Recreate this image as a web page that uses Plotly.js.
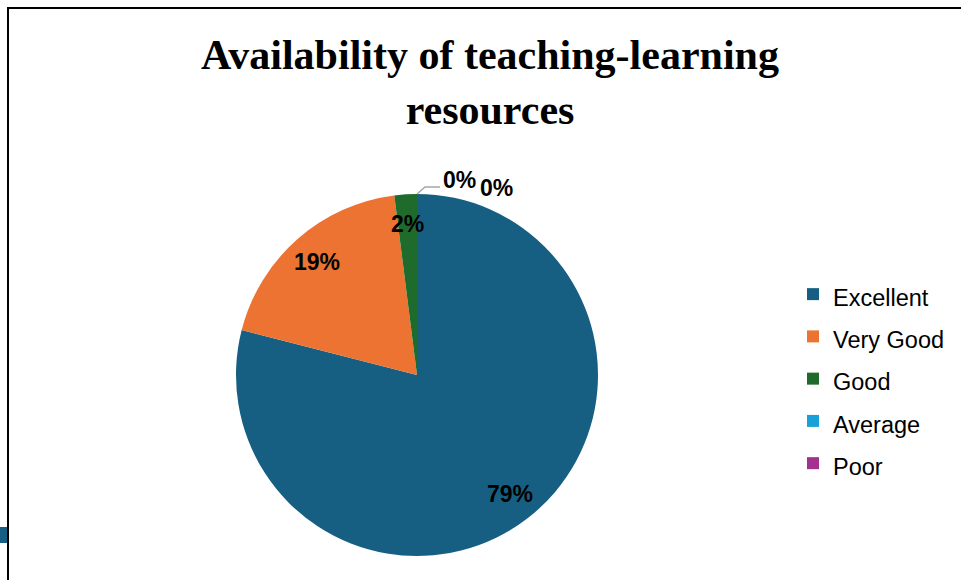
<!DOCTYPE html>
<html><head><meta charset="utf-8">
<script src="https://cdn.plot.ly/plotly-3.0.1.min.js"></script>
<style>body{margin:0;background:#fff}#c{width:961px;height:580px}</style>
</head><body><div id="c"></div>
<script>
const categories = ["Excellent", "Very Good", "Good", "Average", "Poor"];
const values = [79, 19, 2, 0, 0];
const colors = ["#175f82", "#ec7332", "#1e6b2c", "#19a0d8", "#a1308f"];
const titleText = "Availability of teaching-learning<br>resources";

const W = 961, H = 580;
const dom = {x: [236/W, 598/W], y: [(H-556)/H, (H-194)/H]};
const total = values.reduce((a,b)=>a+b,0);

const trace = {
  type: "pie",
  labels: categories.map(c => "<span style='font-size:23.5px'>" + c + "</span>"),
  values: values,
  sort: false,
  direction: "clockwise",
  rotation: 0,
  marker: {colors: colors, line: {width: 0}},
  domain: dom,
  textinfo: "none",
  hoverinfo: "label+percent",
  showlegend: true
};

// pie geometry in pixels (from the domain), for placing the data labels
const pcx = (dom.x[0] + dom.x[1]) / 2 * W;
const pcy = (1 - (dom.y[0] + dom.y[1]) / 2) * H;
const R = (dom.x[1] - dom.x[0]) * W / 2;
const toPaper = (px, py) => ({x: px / W, y: 1 - py / H});
const labelFont = {family: "Liberation Sans, Arial", size: 23, color: "#000"};

const annotations = [];
const shapes = [];
let cum = 0, zi = 0;
values.forEach((v, i) => {
  const frac = v / total;
  const pct = Math.round(frac * 100) + "%";
  if (v > 0) {
    const mid = (cum + frac / 2) * 2 * Math.PI;
    const p = toPaper(pcx + 0.835 * R * Math.sin(mid), pcy - 0.835 * R * Math.cos(mid));
    annotations.push({x: p.x, y: p.y, xref: "paper", yref: "paper", text: "<b>" + pct + "</b>",
      showarrow: false, xanchor: "center", yanchor: "middle", font: labelFont});
  } else {
    const a = cum * 2 * Math.PI;
    const ex = pcx + R * Math.sin(a), ey = pcy - R * Math.cos(a);
    if (zi === 0) {
      const p0 = toPaper(ex, ey), p1 = toPaper(ex + 8, ey - 7), p2 = toPaper(ex + 23, ey - 7);
      shapes.push({type: "path", xref: "paper", yref: "paper",
        path: `M ${p0.x} ${p0.y} L ${p1.x} ${p1.y} L ${p2.x} ${p2.y}`, line: {color: "#a6a6a6", width: 1.5}});
      const p = toPaper(ex + 43, ey - 14);
      annotations.push({x: p.x, y: p.y, xref: "paper", yref: "paper", text: "<b>" + pct + "</b>",
        showarrow: false, xanchor: "center", yanchor: "middle", font: labelFont});
    } else {
      const p = toPaper(ex + 80, ey - 6);
      annotations.push({x: p.x, y: p.y, xref: "paper", yref: "paper", text: "<b>" + pct + "</b>",
        showarrow: false, xanchor: "center", yanchor: "middle", font: labelFont});
    }
    zi++;
  }
  cum += frac;
});

shapes.push(
  {type: "path", xref: "paper", yref: "paper",
   path: `M ${8/W} 0 L ${8/W} ${1-8/H} L 1 ${1-8/H}`, line: {color: "#000", width: 2}},
  {type: "rect", xref: "paper", yref: "paper", x0: 0, x1: 7/W, y0: 1-543/H, y1: 1-527/H,
   fillcolor: "#175f82", line: {width: 0}}
);

const layout = {
  width: W, height: H,
  margin: {l: 0, r: 0, t: 0, b: 0},
  paper_bgcolor: "#fff",
  title: {text: "<b>" + titleText + "</b>", x: 490/W, xanchor: "center", y: 1 - 69/H, yanchor: "top",
    font: {family: "Liberation Serif, Times New Roman", size: 42, color: "#000"}},
  legend: {x: 793/W, xanchor: "left", y: 1 - 379/H, yanchor: "middle",
    font: {family: "Liberation Sans, Arial", size: 30.2, color: "#000"}, itemwidth: 30},
  annotations: annotations,
  shapes: shapes
};

Plotly.newPlot("c", [trace], layout, {displayModeBar: false, staticPlot: true});
</script></body></html>
